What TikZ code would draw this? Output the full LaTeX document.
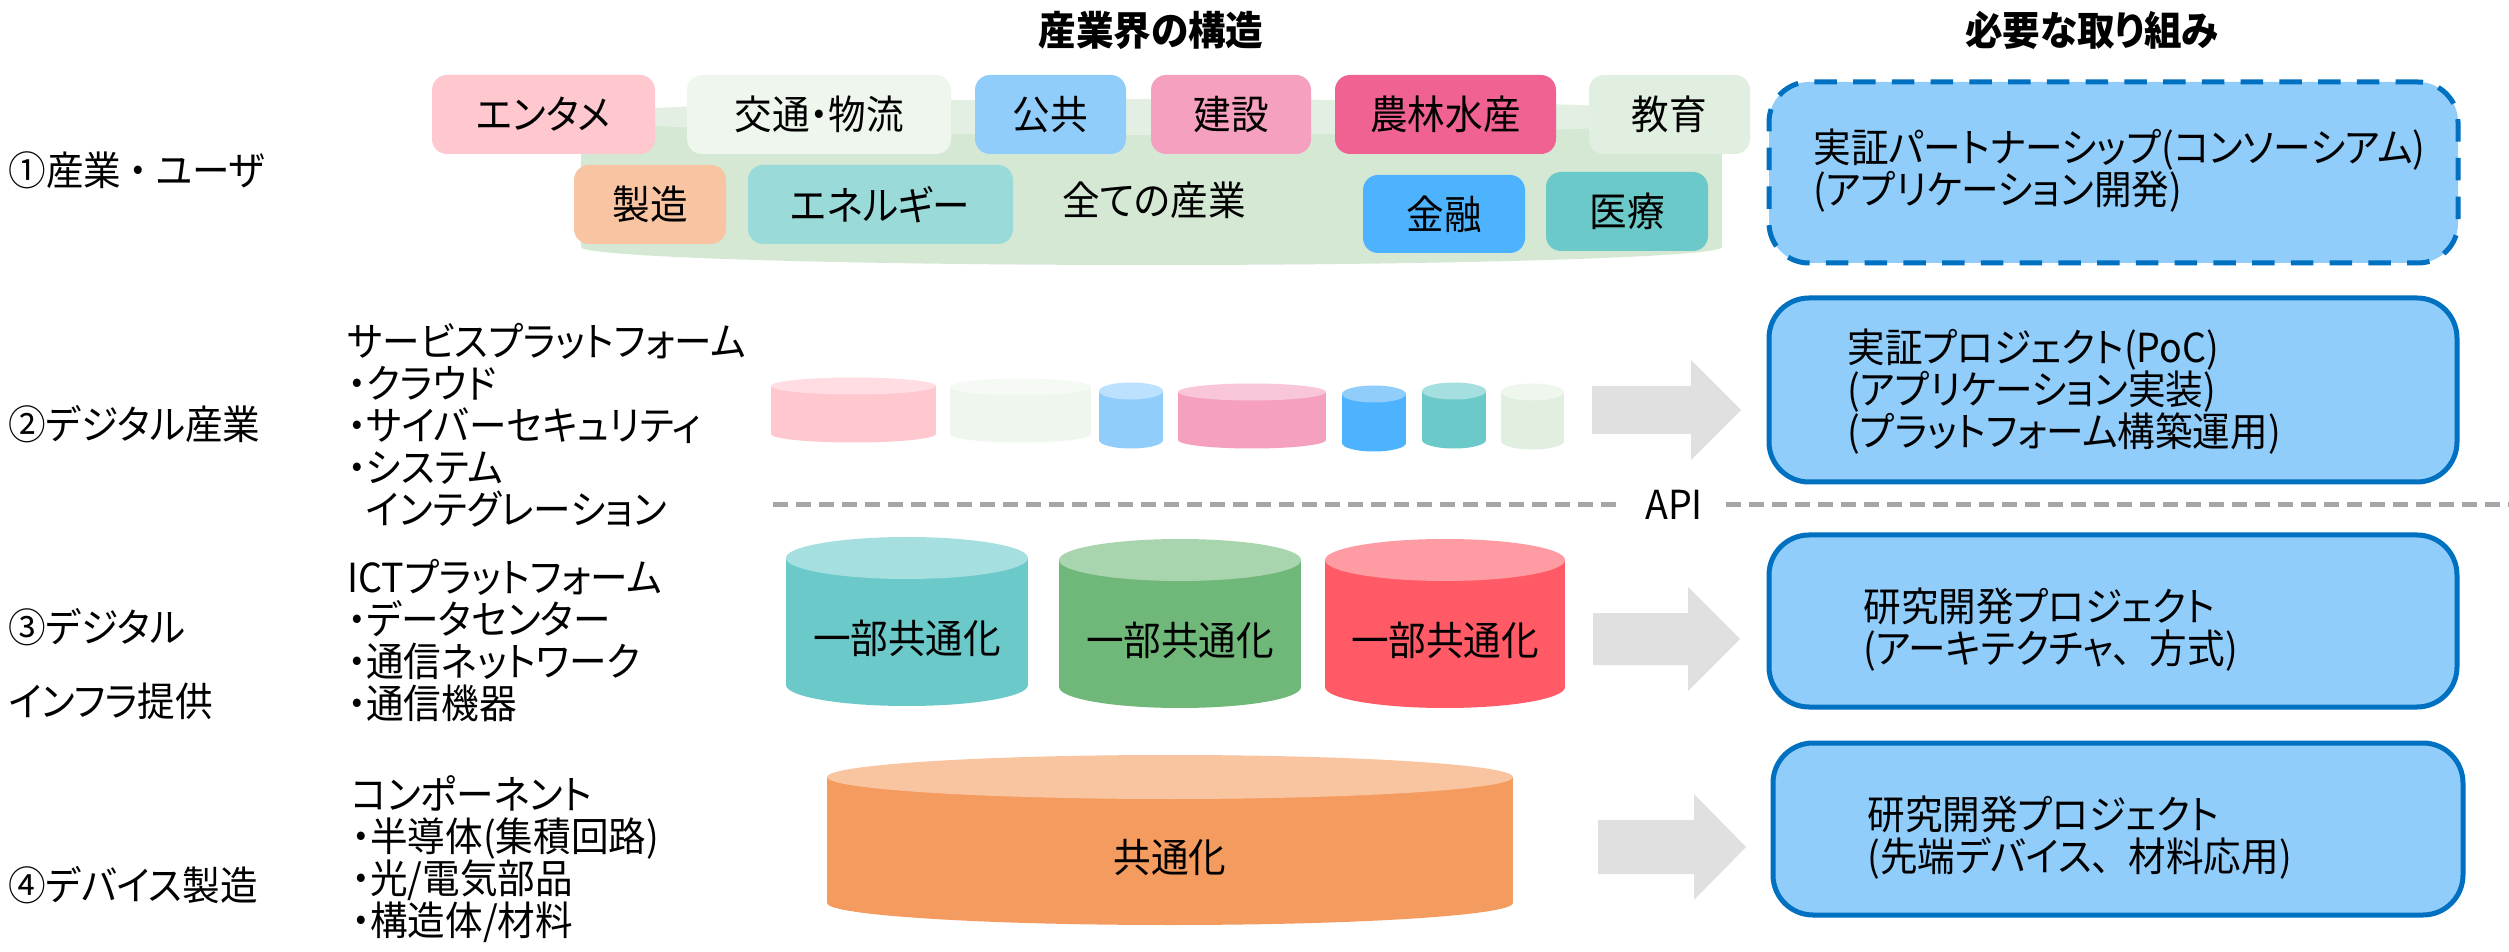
\documentclass[tikz,border=0pt]{standalone}
\usepackage{fontspec}
\setmainfont{Noto Sans CJK JP}[RawFeature=+palt, FakeStretch=0.94]
\usetikzlibrary{fit}
\definecolor{boxblue}{HTML}{0070C0}
\definecolor{boxfill}{HTML}{90CDFB}
\definecolor{apigray}{HTML}{A6A6A6}
\definecolor{arrowgray}{HTML}{E0E0E0}
\definecolor{allTop}{HTML}{E2EFE2}
\definecolor{allBody}{HTML}{D4E8D4}
\definecolor{cEnt}{HTML}{FFC7CE}
\definecolor{cTra}{HTML}{EEF6EE}
\definecolor{cPub}{HTML}{90CDFB}
\definecolor{cCon}{HTML}{F5A0BF}
\definecolor{cAgr}{HTML}{F06292}
\definecolor{cEdu}{HTML}{E0EFE0}
\definecolor{cMan}{HTML}{F8C4A2}
\definecolor{cEne}{HTML}{9ADBDA}
\definecolor{cFin}{HTML}{4DB3FF}
\definecolor{cMed}{HTML}{6CC9C9}
\definecolor{tEnt}{HTML}{FFDDE2}
\definecolor{tTra}{HTML}{F5FAF5}
\definecolor{tPub}{HTML}{BBE1FF}
\definecolor{tCon}{HTML}{F9C5D8}
\definecolor{tEdu}{HTML}{EEF6EE}
\definecolor{tMed}{HTML}{A6DFDF}
\definecolor{cGrn}{HTML}{70B87A}
\definecolor{tGrn}{HTML}{A9D5AE}
\definecolor{cRed}{HTML}{FF5A66}
\definecolor{tRed}{HTML}{FF9BA2}
\definecolor{cOra}{HTML}{F49B5F}
\definecolor{tOra}{HTML}{F9C5A1}
% cylinder: x1, x2, ytop, ybot, ry, topcolor, bodycolor
\newcommand\mycyl[7]{%
  \fill[#7] ({(#1+#2)/2},#4) ellipse [x radius={(#2-#1)/2}, y radius=#5];
  \fill[#7] (#1,#3) rectangle (#2,#4);
  \fill[#6] ({(#1+#2)/2},#3) ellipse [x radius={(#2-#1)/2}, y radius=#5];
}
% block arrow: x1, xhead, x2, yc, shafthalf, headhalf
\newcommand\myarrow[6]{%
  \fill[arrowgray] (#1,{#4-#5}) -- (#2,{#4-#5}) -- (#2,{#4-#6}) -- (#3,#4)
    -- (#2,{#4+#6}) -- (#2,{#4+#5}) -- (#1,{#4+#5}) -- cycle;
}
\newcommand\wcomma{、\hspace{0.45em}}
\begin{document}
\lineskiplimit=-100pt
\begin{tikzpicture}[x=0.4pt,y=-0.4pt,
  txt/.style={inner sep=0pt, font=\fontsize{16pt}{16.8pt}\selectfont},
  ttl/.style={inner sep=0pt, font=\fontsize{16pt}{16.8pt}\selectfont\bfseries},
  ibox/.style={rounded corners=6pt, inner sep=0pt},
  bbox/.style={draw=boxblue, line width=2pt, fill=boxfill, rounded corners=16pt, inner sep=0pt},
  dbox/.style={bbox, dash pattern=on 9pt off 6.5pt},
  apiline/.style={draw=apigray, line width=2pt, dash pattern=on 6pt off 3.2pt},
]
\useasboundingbox[fill=white] (0,0) rectangle (2509,952);

% titles
\node[ttl] (h1) at (1151,30) {産業界の構造};
\node[ttl] (h2) at (2092,30) {必要な取り組み};

% row labels
\node[txt, anchor=west] (r1) at (8,170) {①産業\hspace{0.2em}・\hspace{0.2em}ユーザ};
\node[txt, anchor=west] (r2) at (8,424) {②デジタル産業};
\node[txt, anchor=west] (r3a) at (8,627) {③デジタル};
\node[txt, anchor=west] (r3b) at (8,701) {インフラ提供};
\node[txt, anchor=west] (r4) at (8,885) {④デバイス製造};

% lists
\node[txt, align=left, anchor=west] (l2) at (347,425) {サービスプラットフォーム\\・クラウド\\・サイバーセキュリティ\\・システム\\\phantom{・}インテグレーション};
\node[txt, align=left, anchor=west] (l3) at (347,641) {ICTプラットフォーム\\・データセンター\\・通信ネットワーク\\・通信機器};
\node[txt, align=left, anchor=west] (l4) at (351,859) {コンポーネント\\・半導体(集積回路)\\・光/電気部品\\・構造体/材料};

% row 1: all industries
\mycyl{581}{1722}{117}{247}{18}{allTop}{allBody}
\node[txt] (all) at (1154,200) {全ての産業};
\node[ibox, fill=cEnt, fit={(432,75) (655,154)}] (ent) {};
\node[ibox, fill=cTra, fit={(687,75) (951,154)}] (tra) {};
\node[ibox, fill=cPub, fit={(975,75) (1126,154)}] (pub) {};
\node[ibox, fill=cCon, fit={(1151,75) (1311,154)}] (con) {};
\node[ibox, fill=cAgr, fit={(1335,75) (1556,154)}] (agr) {};
\node[ibox, fill=cEdu, fit={(1589,75) (1750,154)}] (edu) {};
\node[ibox, fill=cMan, fit={(574,165) (726,244)}] (man) {};
\node[ibox, fill=cEne, fit={(748,165) (1013,244)}] (ene) {};
\node[ibox, fill=cFin, fit={(1363,175) (1525,253)}] (fin) {};
\node[ibox, fill=cMed, fit={(1546,172) (1708,251)}] (med) {};
\node[txt] (entT) at (ent.center) {エンタメ};
\node[txt] (traT) at (tra.center) {交通・物流};
\node[txt] (pubT) at (pub.center) {公共};
\node[txt] (conT) at (con.center) {建設};
\node[txt] (agrT) at (agr.center) {農林水産};
\node[txt] (eduT) at (edu.center) {教育};
\node[txt] (manT) at (man.center) {製造};
\node[txt] (eneT) at (ene.center) {エネルギー};
\node[txt] (finT) at (fin.center) {金融};
\node[txt] (medT) at (med.center) {医療};

% row 2 cylinders
\mycyl{771}{936}{386}{434}{8.5}{tEnt}{cEnt}
\mycyl{950}{1091}{387}{434}{8.5}{tTra}{cTra}
\mycyl{1099}{1163}{391}{440}{8.5}{tPub}{cPub}
\mycyl{1178}{1326}{392}{440}{8.5}{tCon}{cCon}
\mycyl{1342}{1406}{394}{443}{8.5}{cPub}{cFin}
\mycyl{1422}{1486}{391}{440}{8.5}{tMed}{cMed}
\mycyl{1501}{1564}{392}{441}{8.5}{tEdu}{cEdu}

% row 3 cylinders
\mycyl{786}{1028}{558}{685}{21}{tMed}{cMed}
\mycyl{1059}{1301}{560}{687}{21}{tGrn}{cGrn}
\mycyl{1325}{1565}{560}{687}{21}{tRed}{cRed}
\node[txt] (c31) at (907,638) {一部共通化};
\node[txt] (c32) at (1180,640) {一部共通化};
\node[txt] (c33) at (1445,640) {一部共通化};

% row 4 cylinder
\mycyl{827}{1513}{777}{903}{22}{tOra}{cOra}
\node[txt] (c41) at (1170,857) {共通化};

% arrows
\myarrow{1592}{1691}{1741}{410}{24}{50}
\myarrow{1593}{1688}{1740}{639}{26}{52}
\myarrow{1598}{1694}{1746}{847}{27}{53}

% API line
\node[txt, inner xsep=9pt] (api) at (1674,505) {API};
\coordinate (apiL) at (773,505);
\coordinate (apiR) at (2509,505);
\draw[apiline] (apiL) -- (api.west);
\draw[apiline] (api.east) -- (apiR);

% right boxes
\node[dbox, fit={(1769,82) (2458,263)}] (b1) {};
\node[txt, align=left, anchor=west] (t1) at (1813,171) {実証パートナーシップ(コンソーシアム)\\(アプリケーション開発)};
\node[bbox, fit={(1769,298) (2457,482)}] (b2) {};
\node[txt, align=left, anchor=west] (t2) at (1847,392) {実証プロジェクト(PoC)\\(アプリケーション実装)\\(プラットフォーム構築運用)};
\node[bbox, fit={(1769,535) (2457,707)}] (b3) {};
\node[txt, align=left, anchor=west] (t3) at (1863,630) {研究開発プロジェクト\\(アーキテクチャ\wcomma 方式)};
\node[bbox, fit={(1773,743) (2463,915)}] (b4) {};
\node[txt, align=left, anchor=west] (t4) at (1867,838) {研究開発プロジェクト\\(先端デバイス\wcomma 材料応用)};
\end{tikzpicture}
\end{document}
